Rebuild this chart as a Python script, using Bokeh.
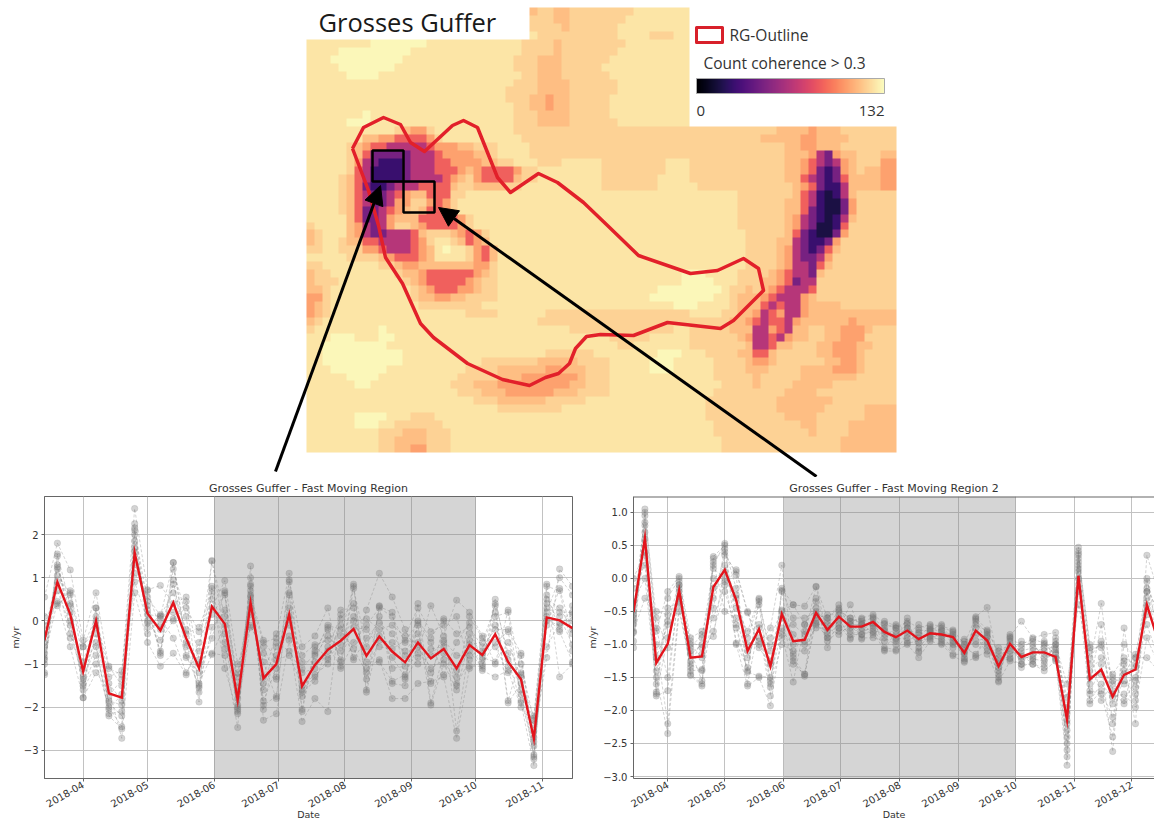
from datetime import datetime as date, timedelta
import numpy as np
from bokeh.plotting import figure
from bokeh.layouts import column, row
from bokeh.models import (Range1d, LinearColorMapper, Arrow, NormalHead, BoxAnnotation, Span,
                          FixedTicker, MonthsTicker, DatetimeTickFormatter)
from bokeh.palettes import Magma256
from bokeh.core.properties import value
from bokeh.embed import file_html
from bokeh.resources import INLINE

COUNT_MAX = 132
# digit in the map rows -> count of coherent pairs ('.' = no data, behind a text box)
level_counts = [16, 26, 46, 66, 88, 106, 114, 120, 125, 130]
map_rows = [
"............................ 67766777 77777888 8888 ..........................",
"............................ 77766777 77778888 8888 ..........................",
"............................ 77776777 77788888 8888 ..........................",
"............................ 87777777 77788887 7788 ..........................",
"88888888 99999998 88888888 88877776 77777777 88888888 ..........................",
"88889999 99999888 88888888 88877776 77777778 88888888 ..........................",
"88899999 99998888 88888888 88777666 77777788 88888888 ..........................",
"88889999 99988888 88888888 88777666 77777888 88888888 ..........................",
"88888999 98888888 88888888 88877666 77777788 88888888 ..........................",
"88888888 88888888 88888888 88777666 67777778 88888888 ..........................",
"88888888 88888888 88888888 87777666 67777778 88888888 ..........................",
"88888888 88888888 88888888 87776656 67777788 88888888 ..........................",
"88888888 88888888 88888888 88776656 67777788 88888888 ..........................",
"88888889 88888888 88888888 88777666 67777788 88888888 ..........................",
"88888999 88888888 88888888 88777666 67777778 88888888 ..........................",
"88888888 88876557 88888888 88777777 77777777 77777777 77777777 77766665 66677777 77",
"88888886 65544445 78888888 88877777 77777777 77777777 77777777 76666655 66667777 77",
"88888765 44333334 55566777 88887777 77777777 77777777 77777777 77776655 66677777 77",
"88888764 22222333 45555667 88887777 77777777 77777777 77777777 77776665 32566777 66",
"88888753 21112333 44555566 77888777 88888777 77777888 77777777 77776654 32356777 55",
"88888743 11112333 44456544 44577888 88888777 77777888 77777777 77776654 21256766 55",
"88887643 11112333 34567544 44677888 88888777 77778888 77777777 77776643 21246666 55",
"88887642 11233344 44677666 67788888 88888777 77778888 87777777 77777654 21136666 55",
"88887643 22345664 44778888 88888888 88888888 88888888 88888877 77777643 10136777 77",
"88887643 22355775 45788888 88888888 88888888 88888888 88888877 77776643 10025777 77",
"88887642 23456764 45788888 88888888 88888888 88888888 88888877 77776642 10025777 77",
"88888642 23566644 44457888 88888888 88888888 88888888 88888877 77776532 10136777 77",
"78888653 23577654 44457888 88888888 88888888 88888888 88888877 77776532 00147777 77",
"67888653 22333467 77654578 88888888 88888888 88888888 88888887 77776421 00257777 77",
"67887664 43333457 88764568 88888888 88888888 88888888 88888887 77766321 12577777 77",
"77887775 54333456 89887546 88888888 88888888 88888888 88888887 77765321 24677777 77",
"88888777 76544456 88887546 88888888 88888888 88888888 88888887 77765322 35777777 77",
"77888888 87765566 66666557 88888888 88888888 88888888 88888887 77765332 46777777 77",
"67788888 88876654 44444567 88888888 88888888 88888889 99888877 77654332 67777777 77",
"67778888 88887654 44445677 88888888 88888888 88888889 99988877 76654233 77777777 77",
"66788888 88888765 44455677 88888888 88888888 88889999 99998776 76543334 77777777 77",
"55788888 88888766 55667777 88888888 88888888 88899999 99988766 65433356 77777777 77",
"56788888 88888877 77777788 88888888 88888888 88888899 98888766 64343356 66677777 77",
"56788888 88888888 88887777 88888877 77777777 77777777 88887766 53453356 66666666 66",
"67888888 88888888 88888888 88888777 77777777 77777777 77777665 43443566 66665666 66",
"78888888 89888888 88888888 88888888 87777777 77777788 77777666 33543667 76655567 77",
"88899988 89988888 88888888 88888888 88888877 77788888 77777765 33435667 76655577 77",
"88999999 99888888 88888888 88888888 88888887 78888888 77777776 33466777 66555667 77",
"88999999 99998888 88888888 88888877 77778888 88889998 88777766 44677777 66555677 77",
"88999999 99998888 88888877 77777666 66777788 88899988 88877776 55677777 76655677 77",
"88899999 99888888 88887777 66666655 66677788 88899988 88877776 66777766 66555677 77",
"88888999 98888888 88877777 66655555 55677788 88888888 88877777 67777766 66666777 77",
"88888899 88888888 88777666 55555555 56677788 88888888 88887777 67777666 66777777 77",
"88888888 88888888 88877766 65555556 66777788 88888888 88877777 77776666 77777777 77",
"88888888 88888888 88888777 66666677 77788888 88888888 88777777 77766666 66777777 77",
"88888888 88888888 88888888 77777777 88888888 88888888 88777777 77766666 67777766 66",
"88888899 99888777 88888888 88888888 88888888 88888888 88777777 77776666 77777766 66",
"88888899 98877777 78888888 88888888 88888888 88888888 88877777 77777766 77776666 66",
"88888888 87776667 77888888 88888888 88888888 88888888 88877777 77777776 77776666 66",
"88888888 87766667 77888888 88888888 88888888 88888888 88887777 77777777 77766666 66",
"88888888 87766557 77888888 88888888 88888888 88888888 88887777 77777777 77766666 66",
]

outline_x = [352,363,383,400,410,424,452,463,477,497,510,538,557,583,607,638,690,717,743,758,763,743,733,720,667,633,600,586,575,569,558,545,529,502,467,433,420,402,385,378,368,352]
outline_y = [148,127,117,124,142,151,125,120,127,177,192,173,182,202,225,255,273,270,258,268,290,310,320,328,322,335,334,336,348,363,373,377,385,379,363,337,323,283,257,225,190,148]

dates_left = [date(2018,3,14) + timedelta(days=6*i) for i in range(42)]
dates_right = [date(2018,3,14) + timedelta(days=6*i) for i in range(47)]

left_mean = [-0.45,0.9,0.15,-1.17,0.0,-1.68,-1.78,1.58,0.17,-0.22,0.42,-0.4,-1.1,0.33,-0.07,-1.83,0.42,-1.33,-1.0,0.15,-1.51,-1.02,-0.67,-0.46,-0.19,-0.81,-0.36,-0.71,-0.96,-0.5,-0.87,-0.65,-1.1,-0.56,-0.79,-0.31,-0.95,-1.35,-2.73,0.08,0.01,-0.17]
right_mean = [-0.51,0.61,-1.28,-0.99,-0.18,-1.2,-1.18,-0.13,0.13,-0.33,-1.1,-0.77,-1.33,-0.54,-0.95,-0.93,-0.52,-0.78,-0.58,-0.73,-0.73,-0.66,-0.81,-0.89,-0.79,-0.92,-0.83,-0.85,-0.89,-1.13,-0.79,-0.94,-1.33,-0.99,-1.19,-1.12,-1.12,-1.19,-2.14,0.04,-1.53,-1.38,-1.79,-1.46,-1.38,-0.4,-0.95]

L0314 = [-0.5,-1.2,0.55,-0.85,-0.3,-1.0,-0.75,0.1,-1.25,-0.6,-0.9,-0.1]
L0320 = [1.2,1.5,1.8,0.45,1.05,1.25,0.7,0.35,1.55,0.9,1.3,0.4]
L0326 = [0.4,-0.3,1.18,-0.6,0.65,0.2,-0.1,0.7,0.35,-0.4,0.0,0.6]
L0401 = [-1.45,-1.3,-0.45,-1.78,-0.6,-1.1,-1.5,-0.95,-1.6,-0.6,-1.35,-1.78]
L0407 = [-0.3,0.3,0.65,-1.2,0.1,-0.5,-0.8,0.0,-1.0,-0.15,-0.6,0.3]
L0413 = [-1.9,-2.05,-1.1,-1.6,-1.3,-2.2,-1.85,-1.05,-2.0,-1.45,-2.15,-1.75]
L0419 = [-2.2,-1.7,-1.25,-2.72,-1.15,-2.5,-1.95,-1.5,-2.45,-1.85,-2.1,-1.35]
L0425 = [2.1,1.85,2.6,0.65,1.6,2.15,1.3,0.9,2.0,1.7,1.1,2.25]
L0501 = [0.45,0.15,0.72,-0.5,0.25,-0.15,0.7,0.0,-0.3,0.35,0.55,-0.05]
L0507 = [-0.75,0.1,0.82,-1.05,-0.7,0.15,-0.2,-0.45,0.05,-0.8,0.12,-0.1]
L0513 = [0.95,1.35,0.4,-0.75,1.2,0.2,0.85,0.0,-0.4,1.35,0.65,0.05]
L0519 = [-0.8,-0.5,0.55,-1.25,0.1,-0.85,-0.3,0.45,-1.2,-0.6,-0.2,0.3]
L0525 = [-1.5,-1.65,-0.9,-0.5,-1.88,-1.2,-0.15,-1.55,-0.7,-1.0,-1.45,-0.25]
L0531 = [0.8,1.4,-0.75,0.3,0.75,-0.4,0.65,-0.15,1.38,0.15,-0.78,0.5]
L0606 = [0.65,0.1,-0.8,0.93,-0.5,0.7,-1.1,0.25,-0.3,0.6,-0.1,-0.65]
L0612 = [-2.1,-1.8,-2.47,-1.0,-2.0,-1.5,-2.15,-1.3,-1.95,-1.65,-2.05,-1.2]
L0618 = [0.8,0.45,1.27,-0.15,1.0,0.7,0.15,0.3,0.6,0.85,-0.1,0.55]
L0624 = [-1.95,-0.5,-2.3,-0.6,-1.6,-2.05,-0.95,-1.3,-0.45,-1.85,-0.75,-1.45]
L0630 = [-1.75,-0.4,-2.15,-1.3,-0.8,-0.5,-1.8,-0.3,-0.9,-1.1,-1.35,-0.6]
L0706 = [0.65,1.1,-0.45,0.95,0.3,-0.7,0.6,-0.1,-0.8,0.1,0.9,-0.35]
L0712 = [-2.1,-1.6,-2.33,-0.6,-1.75,-1.2,-2.05,-0.95,-1.5,-0.8,-1.65,-1.1]
L0718 = [-0.7,-1.3,-1.8,-0.35,-0.8,-1.1,-0.6,-0.95,-1.25,-0.55,-1.4,-0.75]
L0724 = [-0.15,-0.9,-2.1,0.3,-0.35,-0.7,-0.85,-0.2,-1.0,-0.45,-0.6,-0.1]
L0730 = [-0.9,-0.1,0.25,-1.1,-0.35,0.15,-0.55,-0.95,0.05,-0.7,-1.05,-0.2]
L0805 = [0.85,-0.85,0.3,-0.5,0.8,-0.9,0.1,0.0,0.4,-0.15,0.75,-0.65]
L0811 = [-1.6,0.25,-1.1,-0.1,-1.65,-0.4,-0.95,0.05,-1.35,-0.2,-0.6,-1.2]
L0817 = [0.35,1.1,-0.9,0.3,-0.35,-0.05,-0.95,-0.2,0.33,-0.6,0.1,-0.45]
L0823 = [-1.45,0.55,-1.8,0.1,-0.85,-0.3,-1.4,-0.1,0.2,-0.65,-1.1,-0.5]
L0829 = [-1.5,-0.2,-1.8,-0.5,-1.3,-0.8,-1.25,-0.35,-1.35,-0.45,-1.05,-0.7]
L0904 = [0.4,-0.75,-1.45,0.0,-0.1,-1.0,-0.6,0.3,-0.85,-0.5,-0.05,-0.3]
L0910 = [-1.9,0.35,-1.4,-0.4,-1.95,-0.8,-1.1,-0.25,-0.65,-1.45,-0.5,-1.2]
L0916 = [-0.75,-0.35,-1.3,0.05,-1.0,-0.45,-0.9,-0.1,-0.6,0.0,-1.25,-0.5]
L0922 = [-1.15,0.48,-2.72,-0.3,-1.6,-0.8,-1.45,0.1,-1.3,-2.55,-0.5,-1.5]
L0928 = [-0.7,0.2,-1.1,-0.15,-0.45,-0.8,0.1,-1.05,-0.3,-0.55,-0.05,-0.9]
L1004 = [-1.1,-0.35,-0.9,-0.6,-1.15,-0.7,-0.4,-1.05,-0.85,-0.5,-1.0,-0.75]
L1010 = [0.5,-1.0,0.2,-0.2,-1.3,0.4,-0.6,0.1,-0.95,0.35,-0.5,-0.1]
L1016 = [-0.9,0.25,-1.9,-0.2,-1.15,-0.75,-1.2,0.2,-0.5,-1.85,-0.25,-1.05]
L1022 = [-1.9,-1.2,-1.45,-0.75,-2.0,-1.6,-1.0,-1.85,-1.3,-0.8,-1.7,-1.25]
L1028 = [-3.35,-2.7,-2.2,-3.1,-2.4,-3.15,-2.3,-2.9,-2.55,-2.8,-2.25,-3.2]
L1103 = [0.4,-0.85,0.85,-0.1,0.6,0.3,0.2,-0.6,0.8,0.0,0.5,0.1]
L1109 = [0.2,1.2,-1.3,0.75,-0.2,0.1,1.0,-0.05,0.7,-0.1,0.3,-0.25]
L1115 = [0.2,0.8,-1.0,-0.3,0.35,-0.55,0.6,0.0,-0.7,0.15,-0.2,-0.95]
left_members = [L0314,L0320,L0326,L0401,L0407,L0413,L0419,L0425,L0501,L0507,L0513,L0519,L0525,L0531,L0606,L0612,L0618,L0624,L0630,L0706,L0712,L0718,L0724,L0730,L0805,L0811,L0817,L0823,L0829,L0904,L0910,L0916,L0922,L0928,L1004,L1010,L1016,L1022,L1028,L1103,L1109,L1115]

R0314=[-0.6,-1.05,0.0,-0.8,-0.5,-0.7,-0.95,-0.35,-0.82,-0.15,-0.65,-0.55]
R0320=[0.8,1.05,0.4,-0.3,0.95,0.6,0.7,0.0,0.85,0.2,1.0,0.35]
R0326=[-1.75,-0.8,-1.5,-0.5,-1.78,-1.2,-1.0,-1.6,-0.75,-1.4,-0.6,-1.72]
R0401=[-0.9,-0.2,-2.35,-0.55,-1.7,-0.7,-2.2,-0.3,-1.5,-0.65,-1.05,-0.45]
R0407=[-0.15,0.03,-0.5,-0.3,-0.1,-0.05,-0.4,0.0,-0.2,-0.28,-0.1,-0.35]
R0413=[-1.45,-0.9,-1.3,-1.15,-1.47,-1.0,-1.35,-1.1,-1.25,-0.95,-1.4,-1.05]
R0419=[-1.6,-0.8,-1.4,-1.0,-1.63,-1.2,-0.9,-1.55,-1.15,-1.05,-1.38,-0.85]
R0425=[0.33,-0.6,0.2,-0.88,0.25,-0.3,0.15,-0.45,-0.8,0.0,0.3,-0.15]
R0501=[0.5,-0.1,0.53,0.2,-0.5,0.35,0.0,0.45,-0.2,0.1,0.4,-0.05]
R0507=[-0.7,0.13,-1.0,-0.3,-0.6,0.1,-0.98,-0.15,-0.75,-0.45,0.05,-0.25]
R0513=[-1.4,-0.5,-1.63,-0.9,-1.2,-0.52,-1.35,-1.0,-1.42,-0.8,-1.6,-1.1]
R0519=[-0.32,-1.0,-1.5,-0.35,-0.75,-1.05,-0.4,-0.9,-1.48,-0.3,-0.7,-0.95]
R0525=[-1.55,-0.75,-1.93,-1.1,-1.78,-1.3,-1.6,-0.9,-1.5,-1.25,-1.65,-1.0]
R0531=[-0.15,0.2,-0.85,-0.5,-0.2,-0.75,-1.0,-0.48,-0.8,-0.6,-0.18,-0.9]
R0606=[-0.4,-1.2,-1.57,-0.85,-1.25,-0.7,-1.1,-0.4,-1.0,-1.3,-0.6,-1.15]
R0612=[-0.42,-1.45,-0.7,-1.0,-1.48,-0.85,-1.1,-0.7,-0.95,-1.45,-0.6,-0.8]
R0618=[-0.12,-0.65,-0.35,-0.75,-0.55,-0.13,-0.7,-0.45,-0.6,-0.3,-0.5,-0.68]
R0624=[-0.6,-0.9,-1.05,-0.75,-0.6,-0.85,-0.7,-0.95,-0.55,-0.8,-0.65,-0.9]
R0630=[-0.45,-0.75,-0.6,-0.85,-0.4,-0.7,-0.5,-0.8,-0.55,-0.65,-0.75,-0.48]
R0706=[-0.65,-0.4,-0.9,-0.7,-0.8,-0.92,-0.6,-0.75,-0.65,-0.85,-0.7,-0.6]
R0712=[-0.6,-0.85,-0.7,-0.9,-0.65,-0.8,-0.92,-0.75,-0.62,-0.85,-0.7,-0.68]
R0718=[-0.55,-0.8,-0.68,-0.9,-0.6,-0.75,-0.62,-0.85,-0.7,-0.58,-0.82,-0.72]
R0724=[-0.68,-1.1,-0.8,-0.95,-0.75,-1.05,-0.85,-0.7,-0.9,-1.08,-0.78,-0.65]
R0730=[-0.75,-1.1,-0.95,-0.7,-0.9,-1.08,-0.85,-0.75,-1.0,-0.8,-0.92,-0.72]
R0805=[-0.65,-1.0,-0.75,-0.95,-0.6,-0.85,-0.7,-0.98,-0.68,-0.8,-0.9,-0.75]
R0811=[-0.75,-1.2,-0.9,-0.85,-1.1,-0.7,-1.05,-0.95,-1.12,-0.82,-0.78,-0.98]
R0817=[-0.7,-0.95,-0.82,-0.75,-0.9,-0.78,-0.85,-0.92,-0.72,-0.88,-0.8,-0.77]
R0823=[-0.72,-1.0,-0.85,-0.78,-0.92,-0.7,-0.95,-0.82,-0.98,-0.75,-0.88,-0.8]
R0829=[-0.78,-1.17,-0.9,-1.0,-0.82,-0.95,-1.15,-0.85,-0.98,-0.8,-1.05,-0.88]
R0904=[-1.0,-1.27,-1.1,-0.92,-1.2,-1.05,-1.15,-1.25,-0.95,-1.12,-1.0,-1.22]
R0910=[-0.58,-1.2,-0.7,-0.95,-0.62,-1.15,-0.85,-0.65,-1.0,-0.75,-1.18,-0.6]
R0916=[-0.44,-1.1,-0.8,-0.9,-1.0,-0.85,-1.15,-0.82,-0.95,-1.05,-0.88,-0.78]
R0922=[-1.3,-1.57,-1.1,-1.45,-1.2,-1.55,-1.05,-1.35,-1.5,-1.25,-1.4,-1.15]
R0928=[-0.88,-1.25,-1.0,-0.95,-1.2,-0.85,-1.15,-1.05,-0.9,-1.22,-0.92,-1.1]
R1004=[-0.65,-1.3,-1.1,-1.2,-1.05,-1.35,-0.95,-1.25,-1.15,-1.3,-1.0,-1.18]
R1010=[-0.9,-1.3,-1.05,-1.2,-0.95,-1.25,-1.0,-1.15,-1.3,-1.1,-0.92,-1.22]
R1016=[-0.85,-1.4,-1.1,-1.0,-1.3,-0.95,-1.2,-1.05,-1.35,-1.15,-0.98,-1.25]
R1022=[-0.82,-1.25,-1.0,-1.15,-0.9,-1.2,-1.05,-1.12,-0.95,-1.22,-1.08,-1.0]
R1028=[-2.2,-2.83,-1.6,-2.5,-1.95,-2.7,-2.3,-1.8,-2.6,-2.4,-2.15,-2.05]
R1103=[0.3,0.47,-0.4,0.1,0.35,0.2,-0.2,0.42,0.15,0.25,0.0,0.38]
R1109=[-1.1,-1.9,-1.3,-1.75,-1.0,-1.6,-1.85,-1.4,-1.2,-1.7,-1.5,-1.05]
R1115=[-1.0,-1.7,-0.38,-1.3,-1.85,-0.7,-1.6,-1.2,-0.95,-1.75,-1.45,-1.05]
R1121=[-1.5,-2.1,-1.7,-2.62,-1.6,-2.2,-1.8,-1.45,-1.9,-2.4,-1.55,-1.75]
R1127=[-1.6,-1.3,-1.9,-0.75,-1.45,-1.25,-1.75,-1.2,-1.55,-1.0,-1.85,-1.4]
R1203=[-1.5,-2.2,-1.2,-1.85,-1.15,-1.65,-1.95,-1.3,-1.75,-1.2,-1.55,-1.35]
R1209=[-0.2,0.35,-1.2,-0.05,-0.3,-0.55,-0.9,0.0,-0.2,-0.7,-0.15,-0.4]
R1215=[-0.95,-0.2,-1.4,-0.6,-1.05,-0.4,-1.3,-0.85,-0.7,-1.2,-0.5,-1.0]
right_members = [R0314,R0320,R0326,R0401,R0407,R0413,R0419,R0425,R0501,R0507,R0513,R0519,R0525,R0531,R0606,R0612,R0618,R0624,R0630,R0706,R0712,R0718,R0724,R0730,R0805,R0811,R0817,R0823,R0829,R0904,R0910,R0916,R0922,R0928,R1004,R1010,R1016,R1022,R1028,R1103,R1109,R1115,R1121,R1127,R1203,R1209,R1215]

left_title = "Grosses Guffer - Fast Moving Region"
right_title = "Grosses Guffer - Fast Moving Region 2"
left_yticks = [-3, -2, -1, 0, 1, 2]
right_yticks = [-3.0, -2.5, -2.0, -1.5, -1.0, -0.5, 0.0, 0.5, 1.0]

# ---------- map ----------
N_COLS = 74
grid = []
for r in map_rows:
    s = r.replace(" ", "")
    s = (s + s[-1] * N_COLS)[:N_COLS]
    grid.append([np.nan if c == "." else level_counts[int(c)] for c in s])
grid = np.array(grid, dtype=float)

mapper = LinearColorMapper(palette=Magma256, low=0, high=COUNT_MAX, nan_color="white")

MAP_H = 477
m = figure(width=1154, height=MAP_H, x_range=Range1d(0, 1154), y_range=Range1d(0, MAP_H),
           toolbar_location=None, output_backend="svg", min_border=0, outline_line_color=None)
m.axis.visible = False
m.grid.visible = False
Y = lambda v: [MAP_H - a for a in v]
m.image(image=[grid[::-1]], x=306, y=MAP_H - 452, dw=590, dh=445, color_mapper=mapper)
m.line(outline_x, Y(outline_y), line_color="#e2202a", line_width=3.5, line_join="round")
m.quad(left=[372, 403], right=[403, 434], top=Y([150, 181]), bottom=Y([181, 212]),
       fill_color=None, line_color="black", line_width=2.5)
m.add_layout(Arrow(end=NormalHead(size=19, fill_color="black", line_color="black"),
                   x_start=275, y_start=MAP_H - 471, x_end=380, y_end=MAP_H - 185,
                   line_color="black", line_width=3))
m.add_layout(Arrow(end=NormalHead(size=19, fill_color="black", line_color="black"),
                   x_start=816, y_start=MAP_H - 476, x_end=438, y_end=MAP_H - 207,
                   line_color="black", line_width=3))
font = value("Open Sans")
m.text(x=[318], y=Y([21]), text=["Grosses Guffer"], text_font=font, text_font_size="25.5px",
       text_color="#1a1a1a", text_baseline="middle")
m.quad(left=[696], right=[722], top=Y([27]), bottom=Y([42]), fill_color=None,
       line_color="#d8202a", line_width=3, line_join="round")
m.text(x=[729], y=Y([34]), text=["RG-Outline"], text_font=font, text_font_size="15.5px",
       text_color="#333333", text_baseline="middle")
m.text(x=[703], y=Y([62]), text=["Count coherence > 0.3"], text_font=font, text_font_size="15.5px",
       text_color="#333333", text_baseline="middle")
m.image(image=[np.linspace(0, COUNT_MAX, 256)[None, :]], x=696, y=MAP_H - 93, dw=188, dh=15,
        color_mapper=mapper)
m.quad(left=[696], right=[884], top=Y([78]), bottom=Y([93]), fill_color=None,
       line_color="#aaaaaa", line_width=1)
m.text(x=[696], y=Y([110]), text=["0"], text_font=font, text_font_size="15px",
       text_color="#333333", text_baseline="middle")
m.text(x=[884], y=Y([110]), text=["132"], text_font=font, text_font_size="15px",
       text_color="#333333", text_baseline="middle", text_align="right")


# ---------- time series ----------
def series_fig(title, dates, mean, members, x0, x1, y0, y1, yticks, labels, w, h, bl, br, bb, yl_stand):
    p = figure(x_axis_type="datetime", width=w, height=h,
               x_range=Range1d(x0, x1), y_range=Range1d(y0, y1), title=title,
               toolbar_location=None, output_backend="svg",
               min_border_left=bl, min_border_right=br, min_border_top=0, min_border_bottom=bb)
    p.title.text_font = "DejaVu Sans"
    p.title.text_font_size = "11px"
    p.title.text_font_style = "normal"
    p.title.text_color = "#333333"
    p.title.align = "center"
    p.title.standoff = 4
    p.outline_line_color = "#666666"
    p.xaxis.ticker = MonthsTicker(months=list(range(12)))
    p.xaxis.formatter = DatetimeTickFormatter(months="%Y-%m", days="%Y-%m")
    p.xaxis.major_label_orientation = 0.52
    p.xaxis.axis_label = "Date"
    p.yaxis.axis_label = "m/yr"
    p.yaxis.ticker = FixedTicker(ticks=yticks)
    p.yaxis.major_label_overrides = dict(zip(yticks, labels))
    for ax in (p.xaxis[0], p.yaxis[0]):
        ax.major_label_text_font = "DejaVu Sans"
        ax.major_label_text_font_size = "10px"
        ax.major_label_text_color = "#333333"
        ax.axis_label_text_font = "DejaVu Sans"
        ax.axis_label_text_font_size = "9.5px"
        ax.axis_label_text_font_style = "normal"
        ax.axis_label_text_color = "#333333"
        ax.axis_line_color = "#666666"
        ax.major_tick_line_color = "#666666"
        ax.major_tick_out = 3
        ax.major_tick_in = 0
        ax.minor_tick_out = 0
        ax.minor_tick_in = 0
        ax.major_label_standoff = 3
    p.xaxis[0].major_label_standoff = 2
    p.xaxis[0].axis_label_standoff = -5
    p.yaxis[0].axis_label_standoff = yl_stand
    p.grid.grid_line_color = "#c2c2c2"
    p.grid.grid_line_width = 1
    p.add_layout(BoxAnnotation(left=date(2018, 6, 1), right=date(2018, 10, 1), fill_color="#808080",
                               fill_alpha=0.33, line_color=None, level="underlay"))
    for k in range(len(members[0])):
        ys = [row_[k] for row_ in members]
        p.line(dates, ys, line_color="#808080", line_alpha=0.35, line_width=1, line_dash="3 2")
        p.scatter(dates, ys, size=6.5, fill_color="#707070", fill_alpha=0.3, line_color="#707070", line_alpha=0.15)
    p.line(dates, mean, line_color="#e3141c", line_width=2.4, line_join="miter")
    return p


left = series_fig(left_title, dates_left, left_mean, left_members,
                  date(2018, 3, 14), date(2018, 11, 15), -3.65, 2.88, left_yticks,
                  ["\u22123", "\u22122", "\u22121", "0", "1", "2"], 584, 346, 44, 12, 45, 0)
right = series_fig(right_title, dates_right, right_mean, right_members,
                   date(2018, 3, 14), date(2018, 12, 13), -3.03, 1.24, right_yticks,
                   ["\u22123.0", "\u22122.5", "\u22122.0", "\u22121.5", "\u22121.0", "\u22120.5", "0.0", "0.5", "1.0"],
                   570, 346, 48, 0, 45, 2)
right.outline_line_color = None
right.add_layout(Span(location=1.24, dimension="width", line_color="#666666", line_width=2))

page = column(m, row(left, right, spacing=0), spacing=0)
open("out.html", "w").write(file_html(page, INLINE))
